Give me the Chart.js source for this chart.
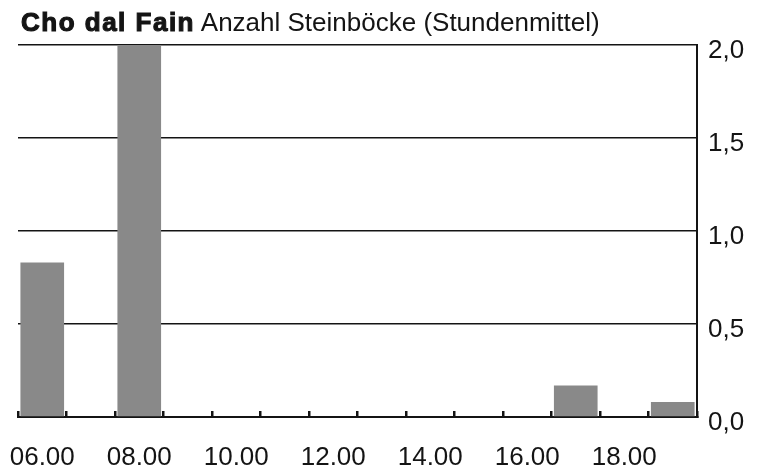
<!DOCTYPE html>
<html>
<head>
<meta charset="utf-8">
<script src="https://cdn.jsdelivr.net/npm/chart.js@4/dist/chart.umd.min.js"></script>
<style>
  html, body { margin: 0; padding: 0; background: #fff; }
  #wrap { position: relative; width: 760px; height: 468px; overflow: hidden; }
  #c { position: absolute; left: 0; top: 0; }
  #title { position: absolute; left: 21px; top: 9px; font-family: "Liberation Sans", Arial, sans-serif;
           font-size: 26px; line-height: 26px; color: #141414; white-space: nowrap; }
  #title b { font-weight: 700; letter-spacing: 1.5px; -webkit-text-stroke: 1.1px #141414; }
</style>
</head>
<body>
<div id="wrap">
  <canvas id="c" width="760" height="468"></canvas>
  <div id="title"><b>Cho dal Fain</b> Anzahl Steinböcke (Stundenmittel)</div>
</div>
<script>
const hours = ['06.00','07.00','08.00','09.00','10.00','11.00','12.00','13.00','14.00','15.00','16.00','17.00','18.00','19.00'];
const shownHourLabels = ['06.00','08.00','10.00','12.00','14.00','16.00','18.00'];
const steinboecke = [0.83, 0, 2.0, 0, 0, 0, 0, 0, 0, 0, 0, 0.17, 0, 0.08];
const yTicks = [0, 0.5, 1.0, 1.5, 2.0];

const FONT = '"Liberation Sans", Arial, sans-serif';
const INK = '#141414';

new Chart(document.getElementById('c'), {
  type: 'bar',
  data: {
    labels: hours,
    datasets: [{
      data: steinboecke,
      backgroundColor: '#898989',
      borderWidth: 0,
      barPercentage: 0.9,
      categoryPercentage: 1.0
    }]
  },
  options: {
    responsive: false,
    animation: false,
    events: [],
    layout: { padding: { left: 18, top: 45, right: 0, bottom: 0 } },
    plugins: { legend: { display: false }, tooltip: { enabled: false }, title: { display: false } },
    scales: {
      x: {
        type: 'category',
        offset: true,
        afterFit: (s) => { s.height = 51; s.paddingLeft = 0; s.paddingRight = 0; },
        grid: { display: true, offset: true, drawOnChartArea: false, drawTicks: true, tickLength: -6, color: INK, lineWidth: 2.5 },
        border: { display: true, color: INK, width: 2 },
        ticks: {
          autoSkip: false, maxRotation: 0, padding: 31,
          color: INK, font: { family: FONT, size: 26 },
          callback: function(v, i) { const l = hours[i]; return shownHourLabels.includes(l) ? l : ''; }
        }
      },
      y: {
        position: 'right',
        min: 0, max: 2.0,
        afterFit: (s) => { s.width = 63; },
        afterBuildTicks: (s) => { s.ticks = yTicks.map(v => ({ value: v })); },
        grid: { color: INK, lineWidth: 1.5, drawTicks: false },
        border: { display: true, color: INK, width: 2 },
        ticks: {
          padding: 11, labelOffset: 6,
          color: INK, font: { family: FONT, size: 26 },
          callback: (v) => Number(v).toFixed(1).replace('.', ',')
        }
      }
    }
  }
});
</script>
</body>
</html>
